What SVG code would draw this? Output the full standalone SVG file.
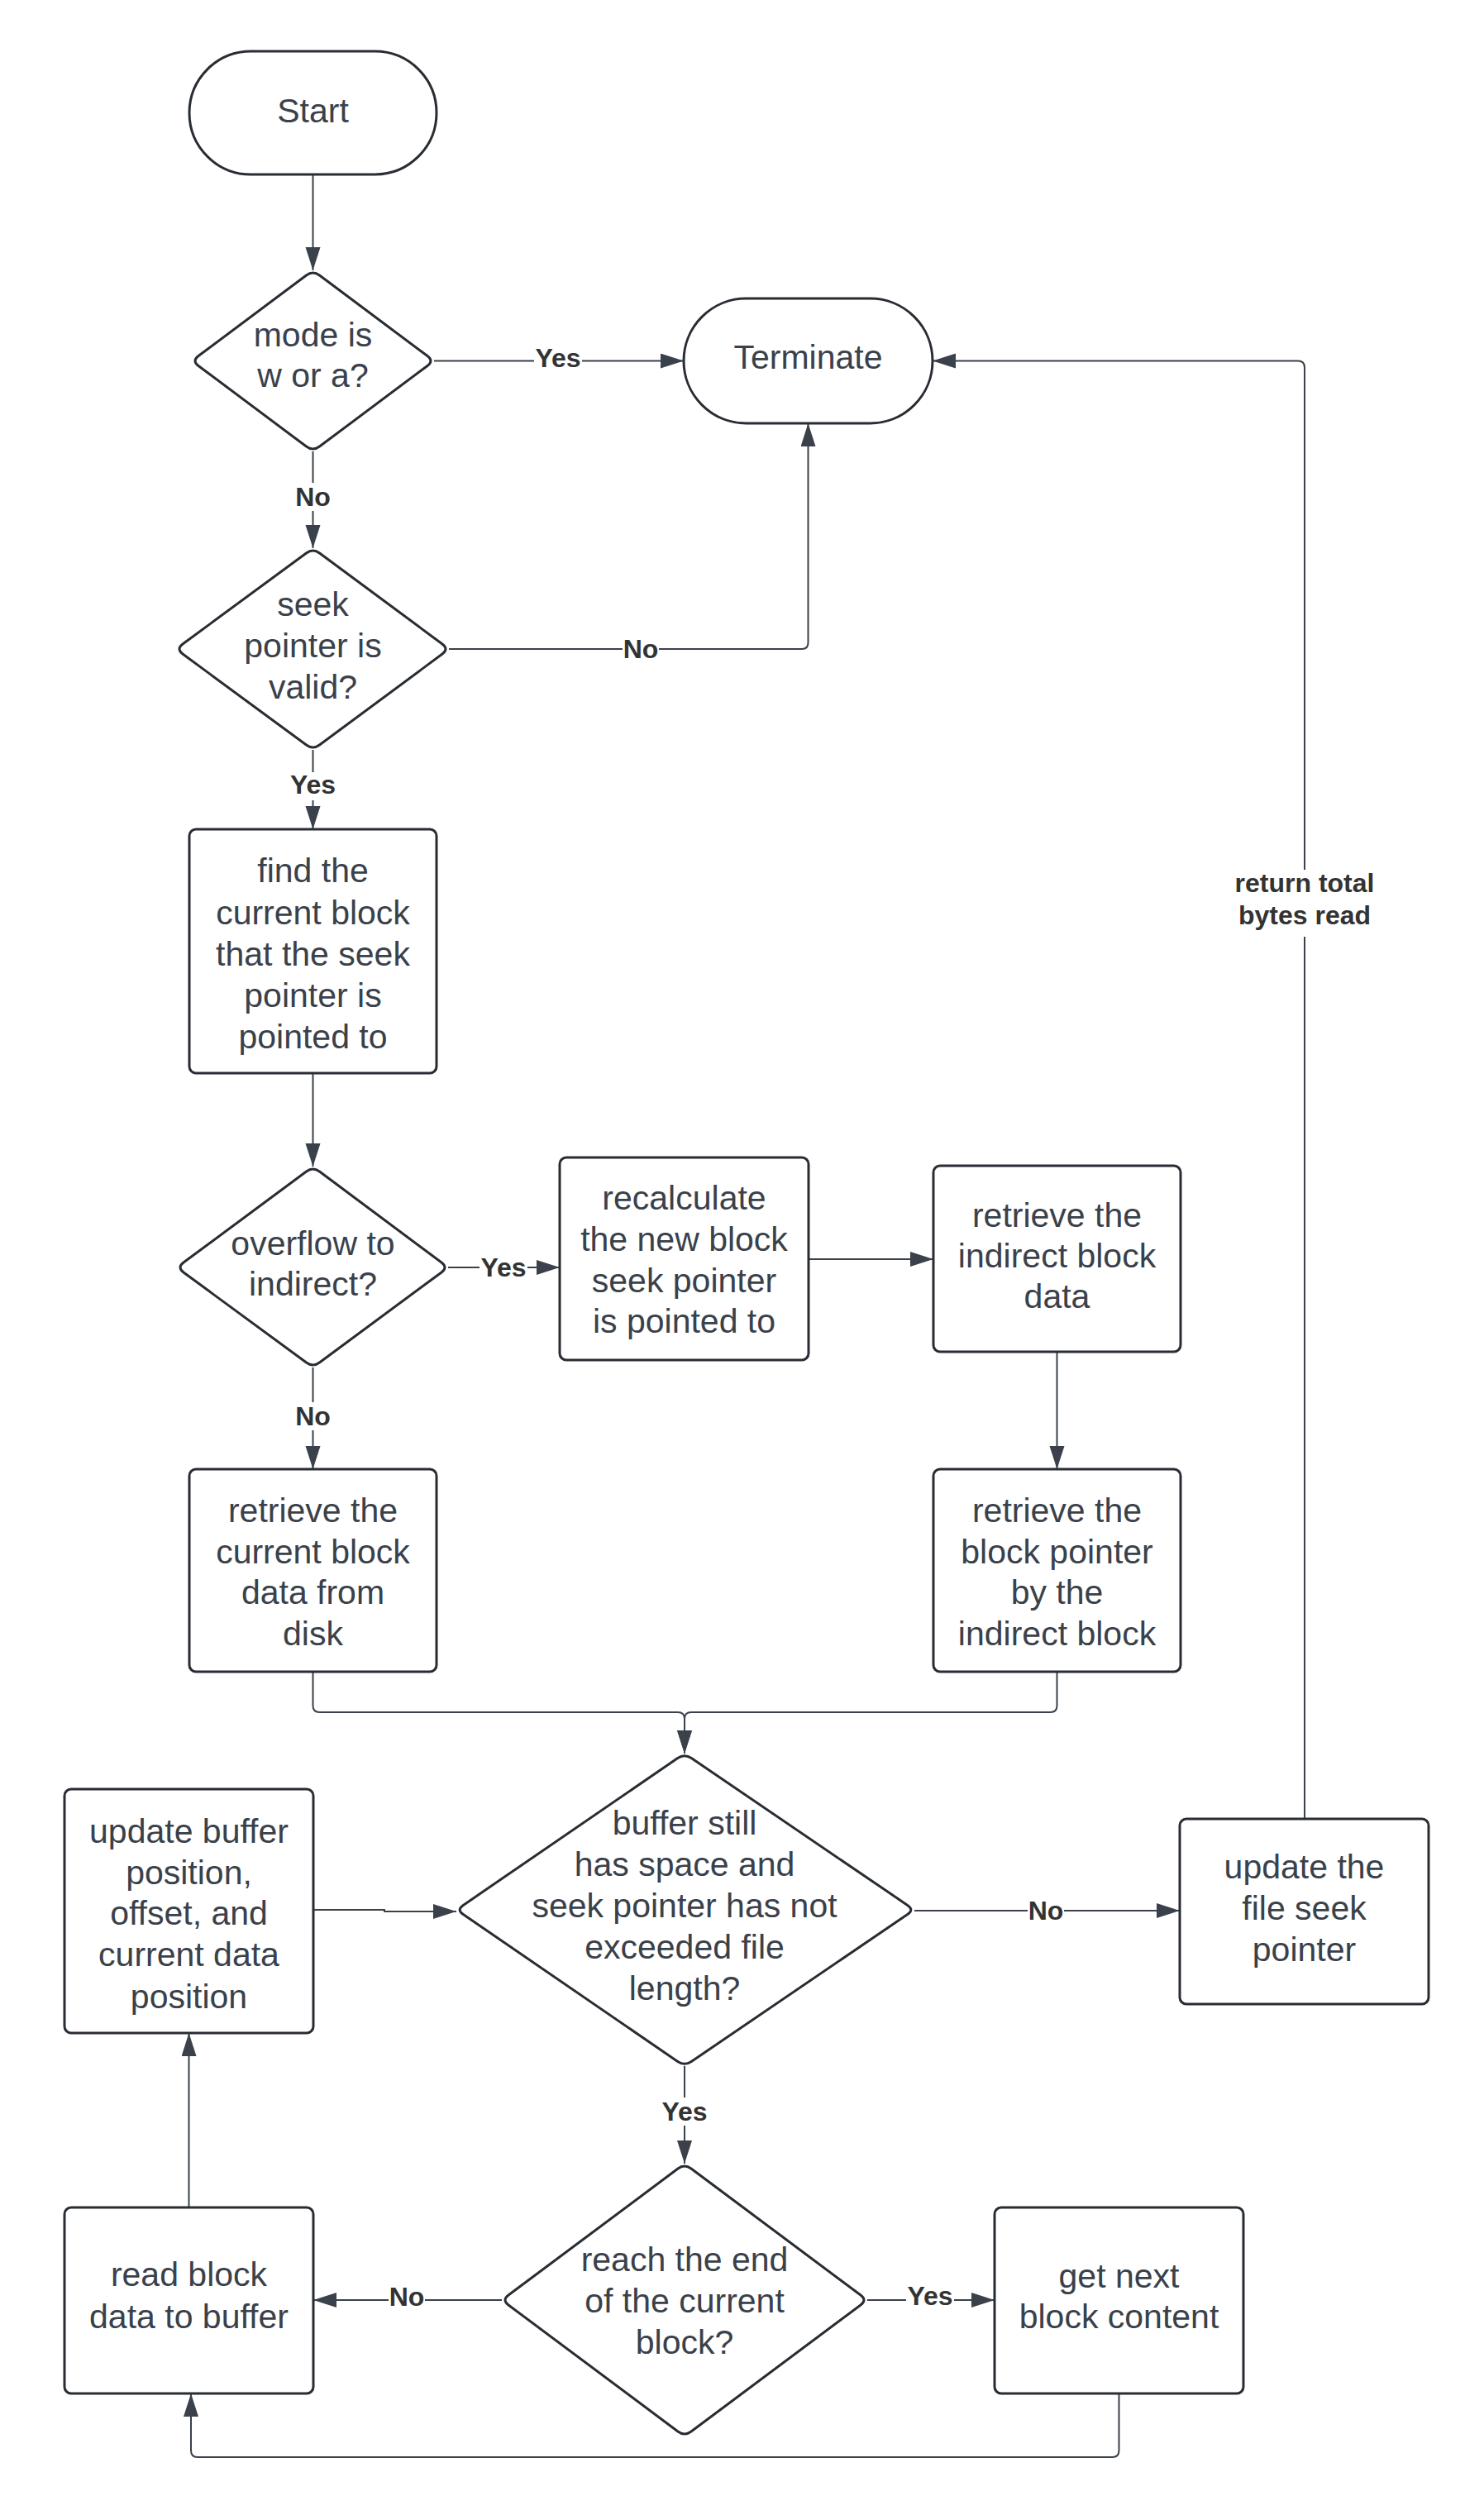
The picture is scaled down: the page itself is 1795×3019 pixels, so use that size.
<svg xmlns="http://www.w3.org/2000/svg" width="1795" height="3019" viewBox="0 0 1795 3019">
<style>
.shape{fill:#ffffff;stroke:#282c33;stroke-width:3;stroke-linejoin:round}
.t{font-family:"Liberation Sans",Arial,sans-serif;font-size:41px;fill:#3a414a;text-anchor:middle}
.conn{fill:none;stroke:#3a414a;stroke-width:2}
.lbl{font-family:"Liberation Sans",Arial,sans-serif;font-size:32px;font-weight:bold;fill:#333333;text-anchor:middle}
.lblbg{fill:#ffffff}
</style>
<defs>
<marker id="arr" markerUnits="userSpaceOnUse" markerWidth="30" markerHeight="20" refX="28" refY="9" orient="auto">
<path d="M0,0 L28,9 L0,18 Z" fill="#3a414a"/>
</marker>
</defs>
<rect width="1795" height="3019" fill="#ffffff"/>

<g id="connectors">
<path class="conn" d="M378.5,211 V327" marker-end="url(#arr)"/>
<path class="conn" d="M525,436.5 H827" marker-end="url(#arr)"/>
<path class="conn" d="M378.5,546 V663" marker-end="url(#arr)"/>
<path class="conn" d="M543,785 H970 Q977.5,785 977.5,777.5 V512" marker-end="url(#arr)"/>
<path class="conn" d="M378.5,907 V1003" marker-end="url(#arr)"/>
<path class="conn" d="M378.5,1298 V1411" marker-end="url(#arr)"/>
<path class="conn" d="M542,1533 H677" marker-end="url(#arr)"/>
<path class="conn" d="M978,1523 H1129" marker-end="url(#arr)"/>
<path class="conn" d="M1278.5,1635 V1777" marker-end="url(#arr)"/>
<path class="conn" d="M378.5,1654 V1777" marker-end="url(#arr)"/>
<path class="conn" d="M378.5,2022 V2063 Q378.5,2071 386.5,2071 H820 Q828,2071 828,2079 V2121" marker-end="url(#arr)"/>
<path class="conn" d="M1278.5,2022 V2063 Q1278.5,2071 1270.5,2071 H836 Q828,2071 828,2079 V2121" marker-end="url(#arr)"/>
<path class="conn" d="M1106,2311 H1427" marker-end="url(#arr)"/>
<path class="conn" d="M1578,2200 V444.5 Q1578,436.5 1570,436.5 H1128" marker-end="url(#arr)"/>
<path class="conn" d="M828,2499 V2617" marker-end="url(#arr)"/>
<path class="conn" d="M607,2782 H379" marker-end="url(#arr)"/>
<path class="conn" d="M1049,2782 H1203" marker-end="url(#arr)"/>
<path class="conn" d="M228.5,2670 V2459" marker-end="url(#arr)"/>
<path class="conn" d="M379,2310 H465 V2312 H552" marker-end="url(#arr)"/>
<path class="conn" d="M1353.5,2895 V2964 Q1353.5,2972 1345.5,2972 H239 Q231,2972 231,2964 V2895" marker-end="url(#arr)"/>

<rect class="lblbg" x="646" y="419" width="58" height="34"/>
<text class="lbl" x="675" y="444">Yes</text>
<rect class="lblbg" x="357" y="584" width="44" height="34"/>
<text class="lbl" x="378.5" y="612">No</text>
<rect class="lblbg" x="753" y="768" width="44" height="34"/>
<text class="lbl" x="775" y="796">No</text>
<rect class="lblbg" x="350" y="934" width="58" height="34"/>
<text class="lbl" x="378.5" y="960">Yes</text>
<rect class="lblbg" x="580" y="1516" width="58" height="34"/>
<text class="lbl" x="609" y="1544">Yes</text>
<rect class="lblbg" x="357" y="1696" width="44" height="34"/>
<text class="lbl" x="378.5" y="1724">No</text>
<rect class="lblbg" x="1243" y="2294" width="44" height="34"/>
<text class="lbl" x="1265" y="2322">No</text>
<rect class="lblbg" x="1490" y="1052" width="176" height="81"/>
<text class="lbl" x="1578" y="1079">return total</text>
<text class="lbl" x="1578" y="1118">bytes read</text>
<rect class="lblbg" x="799" y="2537" width="58" height="34"/>
<text class="lbl" x="828" y="2565">Yes</text>
<rect class="lblbg" x="470" y="2761" width="44" height="34"/>
<text class="lbl" x="492" y="2789">No</text>
<rect class="lblbg" x="1096" y="2760" width="58" height="34"/>
<text class="lbl" x="1125" y="2788">Yes</text>
</g>

<g id="start">
<rect class="shape" x="229" y="62" width="299" height="149" rx="74.5" ry="74.5"/>
<text class="t" x="378.5" y="148">Start</text>
</g>

<g id="terminate">
<rect class="shape" x="827" y="361" width="301" height="151" rx="75.5" ry="75.5"/>
<text class="t" x="977.5" y="446">Terminate</text>
</g>

<g id="mode-decision">
<path class="shape" d="M370.5,333 Q378.5,327 386.5,333 L517,430.5 Q525,436.5 517,442.5 L386.5,540 Q378.5,546 370.5,540 L240,442.5 Q232,436.5 240,430.5 Z"/>
<text class="t" x="378.5" y="419">mode is</text>
<text class="t" x="378.5" y="468">w or a?</text>
</g>

<g id="seek-valid-decision">
<path class="shape" d="M370.5,669 Q378.5,663 386.5,669 L535,779 Q543,785 535,791 L386.5,901 Q378.5,907 370.5,901 L221,791 Q213,785 221,779 Z"/>
<text class="t" x="378.5" y="745">seek</text>
<text class="t" x="378.5" y="795">pointer is</text>
<text class="t" x="378.5" y="845">valid?</text>
</g>

<g id="find-block">
<rect class="shape" x="229" y="1003" width="299" height="295" rx="8" ry="8"/>
<text class="t" x="378.5" y="1067">find the</text>
<text class="t" x="378.5" y="1118">current block</text>
<text class="t" x="378.5" y="1168">that the seek</text>
<text class="t" x="378.5" y="1218">pointer is</text>
<text class="t" x="378.5" y="1268">pointed to</text>
</g>

<g id="overflow-decision">
<path class="shape" d="M370.5,1417 Q378.5,1411 386.5,1417 L534,1527 Q542,1533 534,1539 L386.5,1648 Q378.5,1654 370.5,1648 L222,1539 Q214,1533 222,1527 Z"/>
<text class="t" x="378.5" y="1518">overflow to</text>
<text class="t" x="378.5" y="1567">indirect?</text>
</g>

<g id="recalculate">
<rect class="shape" x="677" y="1400" width="301" height="245" rx="8" ry="8"/>
<text class="t" x="827.5" y="1463">recalculate</text>
<text class="t" x="827.5" y="1513">the new block</text>
<text class="t" x="827.5" y="1563">seek pointer</text>
<text class="t" x="827.5" y="1612">is pointed to</text>
</g>

<g id="retrieve-indirect">
<rect class="shape" x="1129" y="1410" width="299" height="225" rx="8" ry="8"/>
<text class="t" x="1278.5" y="1484">retrieve the</text>
<text class="t" x="1278.5" y="1533">indirect block</text>
<text class="t" x="1278.5" y="1582">data</text>
</g>

<g id="retrieve-block-pointer">
<rect class="shape" x="1129" y="1777" width="299" height="245" rx="8" ry="8"/>
<text class="t" x="1278.5" y="1841">retrieve the</text>
<text class="t" x="1278.5" y="1891">block pointer</text>
<text class="t" x="1278.5" y="1940">by the</text>
<text class="t" x="1278.5" y="1990">indirect block</text>
</g>

<g id="retrieve-current">
<rect class="shape" x="229" y="1777" width="299" height="245" rx="8" ry="8"/>
<text class="t" x="378.5" y="1841">retrieve the</text>
<text class="t" x="378.5" y="1891">current block</text>
<text class="t" x="378.5" y="1940">data from</text>
<text class="t" x="378.5" y="1990">disk</text>
</g>

<g id="buffer-decision">
<path class="shape" d="M819.7,2126.6 Q828,2121 836.3,2126.6 L1097.7,2304.4 Q1106,2310 1097.7,2315.6 L836.3,2493.4 Q828,2499 819.7,2493.4 L560.3,2315.6 Q552,2310 560.3,2304.4 Z"/>
<text class="t" x="828" y="2219">buffer still</text>
<text class="t" x="828" y="2269">has space and</text>
<text class="t" x="828" y="2319">seek pointer has not</text>
<text class="t" x="828" y="2369">exceeded file</text>
<text class="t" x="828" y="2419">length?</text>
</g>

<g id="update-buffer">
<rect class="shape" x="78" y="2164" width="301" height="295" rx="8" ry="8"/>
<text class="t" x="228.5" y="2229">update buffer</text>
<text class="t" x="228.5" y="2279">position,</text>
<text class="t" x="228.5" y="2328">offset, and</text>
<text class="t" x="228.5" y="2378">current data</text>
<text class="t" x="228.5" y="2429">position</text>
</g>

<g id="update-seek">
<rect class="shape" x="1427" y="2200" width="301" height="224" rx="8" ry="8"/>
<text class="t" x="1577.5" y="2272">update the</text>
<text class="t" x="1577.5" y="2322">file seek</text>
<text class="t" x="1577.5" y="2372">pointer</text>
</g>

<g id="end-block-decision">
<path class="shape" d="M820,2623 Q828,2617 836,2623 L1041,2776 Q1049,2782 1041,2788 L836,2941 Q828,2947 820,2941 L615,2788 Q607,2782 615,2776 Z"/>
<text class="t" x="828" y="2747">reach the end</text>
<text class="t" x="828" y="2797">of the current</text>
<text class="t" x="828" y="2847">block?</text>
</g>

<g id="read-block">
<rect class="shape" x="78" y="2670" width="301" height="225" rx="8" ry="8"/>
<text class="t" x="228.5" y="2765">read block</text>
<text class="t" x="228.5" y="2816">data to buffer</text>
</g>

<g id="get-next">
<rect class="shape" x="1203" y="2670" width="301" height="225" rx="8" ry="8"/>
<text class="t" x="1353.5" y="2767">get next</text>
<text class="t" x="1353.5" y="2816">block content</text>
</g>
</svg>
